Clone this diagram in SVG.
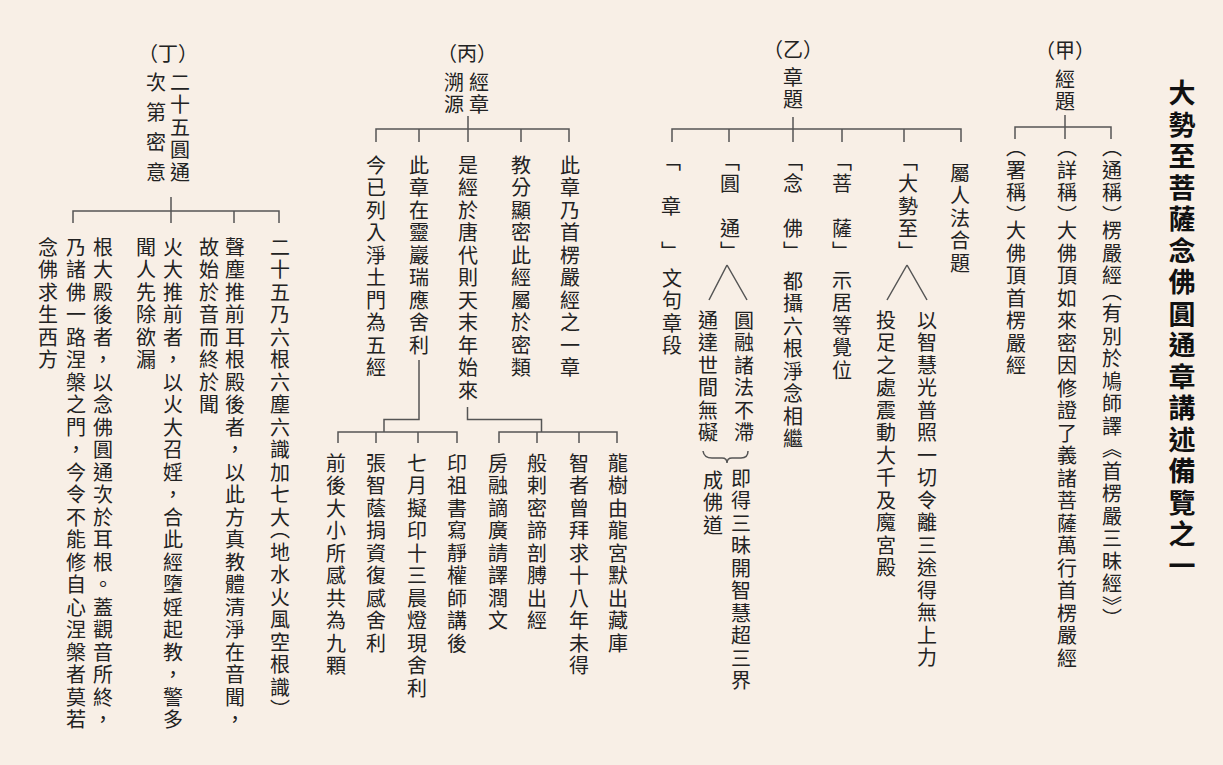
<svg xmlns="http://www.w3.org/2000/svg" width="1223" height="765" viewBox="0 0 1223 765">
<style>
text{font-family:"Noto Sans CJK TC","Noto Sans CJK SC",sans-serif;fill:#222;font-size:20px}
.v{writing-mode:vertical-rl;letter-spacing:2.5px}
.h{text-anchor:middle;dominant-baseline:central}
.t{writing-mode:vertical-rl;font-size:27px;font-weight:bold;letter-spacing:4.5px;fill:#111}
.pa{letter-spacing:-4.5px}
.pb{letter-spacing:-7.5px}
.w{letter-spacing:10px}
.ln{fill:none;stroke:#555;stroke-width:1.5}
</style>
<rect x="0" y="0" width="1223" height="765" fill="#f8efe6"/>

<g id="title"><text class="t" x="1182" y="79.5">大勢至菩薩念佛圓通章講述備覽之一</text></g>

<g id="connectors">
<path class="ln" d="M1065,115V139M1015,139V127H1111V139"/>
<path class="ln" d="M793,117V142M672,142V129H961V142M729,129V142M842,129V142M904,129V142"/>
<path class="ln" d="M907,265L887,300M907,265L927,300"/>
<path class="ln" d="M727,265L709,300M727,265L747,300"/>
<path class="ln" d="M703,451Q704,458 712,458L722,458Q727,458 727,463Q727,458 732,458L741,458Q748,458 748,451"/>
<path class="ln" d="M468,116V142M376,142V129H569V142M419,129V142M521,129V142"/>
<path class="ln" d="M419,360V419.5H384V432M338,443V432H457V443M376,432V443M418,432V443"/>
<path class="ln" d="M467.5,407V419.5H541.5V432M499,443V432H617V443M537,432V443M579,432V443"/>
<path class="ln" d="M171,197V223M73,223V211H279V223M234,211V223"/>
</g>

<g id="jia">
<text class="h" x="1065" y="49">（甲）</text>
<text class="v" x="1065" y="69">經題</text>
</g>
<g id="jia-1"><text class="v" x="1016" y="137.5">（署稱<tspan class="pa">）</tspan>大佛頂首楞嚴經</text></g>
<g id="jia-2"><text class="v" x="1067" y="137.5">（詳稱<tspan class="pa">）</tspan>大佛頂如來密因修證了義諸菩薩萬行首楞嚴經</text></g>
<g id="jia-3"><text class="v" x="1112" y="137.5">（通稱<tspan class="pa">）</tspan>楞嚴<tspan class="pa">經</tspan>（有別於鳩師譯《首楞嚴三昧經》）</text></g>

<g id="yi">
<text class="h" x="793" y="48">（乙）</text>
<text class="v" x="793" y="67">章題</text>
</g>
<g id="yi-1"><text class="v" x="960" y="163">屬人法合題</text></g>
<g id="yi-2">
<text class="v" x="908" y="151">「大勢至」</text>
<text class="v" x="927" y="310">以智慧光普照一切令離三途得無上力</text>
<text class="v" x="886" y="310">投足之處震動大千及魔宮殿</text>
</g>
<g id="yi-3">
<text class="v" x="842" y="151">「菩　薩」</text>
<text class="v" x="842" y="270">示居等覺位</text>
</g>
<g id="yi-4">
<text class="v" x="793" y="151">「念　佛」</text>
<text class="v" x="793" y="271">都攝六根淨念相繼</text>
</g>
<g id="yi-5">
<text class="v" x="730" y="151">「圓　通」</text>
<text class="v" x="744" y="310">圓融諸法不滯</text>
<text class="v" x="708" y="310">通達世間無礙</text>
<text class="v" x="741" y="468">即得三昧開智慧超三界</text>
<text class="v" x="713" y="470">成佛道</text>
</g>
<g id="yi-6">
<text class="v" x="671" y="151">「　章　」</text>
<text class="v" x="672" y="268">文句章段</text>
</g>

<g id="bing">
<text class="h" x="467" y="52">（丙）</text>
<text class="v" x="479" y="72">經章</text>
<text class="v" x="454" y="72">溯源</text>
</g>
<g id="bing-1"><text class="v" x="570" y="155">此章乃首楞嚴經之一章</text></g>
<g id="bing-2"><text class="v" x="521" y="155">教分顯密此經屬於密類</text></g>
<g id="bing-3"><text class="v" x="468" y="155">是經於唐代則天末年始來</text></g>
<g id="bing-4"><text class="v" x="419" y="155">此章在靈巖瑞應舍利</text></g>
<g id="bing-5"><text class="v" x="376" y="155">今已列入淨土門為五經</text></g>
<g id="bing-6"><text class="v" x="618" y="453">龍樹由龍宮默出藏庫</text></g>
<g id="bing-7"><text class="v" x="579" y="453">智者曾拜求十八年未得</text></g>
<g id="bing-8"><text class="v" x="537" y="453">般剌密諦剖膊出經</text></g>
<g id="bing-9"><text class="v" x="498" y="453">房融謫廣請譯潤文</text></g>
<g id="bing-10"><text class="v" x="457" y="453">印祖書寫靜權師講後</text></g>
<g id="bing-11"><text class="v" x="417" y="453">七月擬印十三晨燈現舍利</text></g>
<g id="bing-12"><text class="v" x="376" y="453">張智蔭捐資復感舍利</text></g>
<g id="bing-13"><text class="v" x="336" y="453">前後大小所感共為九顆</text></g>

<g id="ding">
<text class="h" x="168" y="52">（丁）</text>
<text class="v" x="180" y="72">二十五圓通</text>
<text class="v w" x="156" y="72">次第密意</text>
</g>
<g id="ding-1"><text class="v" x="280" y="237">二十五乃六根六塵六識加七<tspan class="pb">大</tspan>（地水火風空根識）</text></g>
<g id="ding-2">
<text class="v" x="235" y="237">聲塵推前耳根殿後者，以此方真教體清淨在音聞，</text>
<text class="v" x="209" y="237">故始於音而終於聞</text>
</g>
<g id="ding-3">
<text class="v" x="173" y="237">火大推前者，以火大召婬，合此經墮婬起教，警多</text>
<text class="v" x="146" y="237">聞人先除欲漏</text>
</g>
<g id="ding-4">
<text class="v" x="103" y="237">根大殿後者，以念佛圓通次於耳根。蓋觀音所終，</text>
<text class="v" x="76" y="237">乃諸佛一路涅槃之門，今令不能修自心涅槃者莫若</text>
<text class="v" x="48" y="237">念佛求生西方</text>
</g>
</svg>
